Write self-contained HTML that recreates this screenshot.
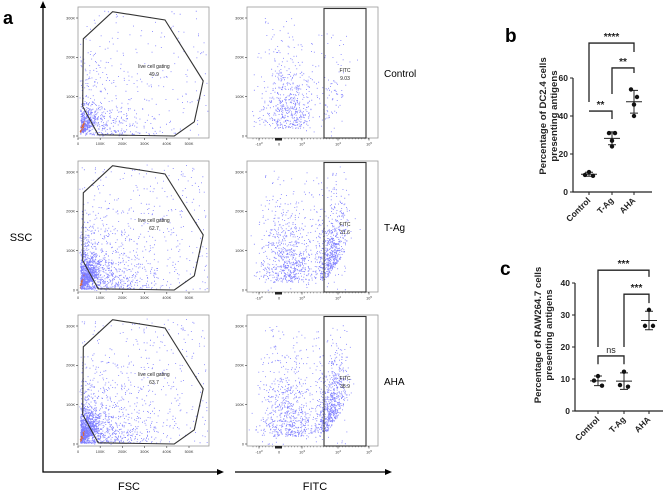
<!DOCTYPE html>
<html><head><meta charset="utf-8">
<style>
html,body{margin:0;padding:0;background:#fff;}
svg{display:block;font-family:"Liberation Sans",Arial,sans-serif;}
</style></head>
<body>
<svg id="fig" width="669" height="491" viewBox="0 0 669 491" xmlns="http://www.w3.org/2000/svg">
<g id="panelA"></g>
<g id="panelB"></g>
<g id="panelC"></g>
</svg>
<script>
// ---------- panel b data ----------
const bCategories = ["Control", "T-Ag", "AHA"];
const bPoints = [[10.5, 9, 8.5], [31, 31, 27, 24], [54, 50, 46, 40]];
const bTicks = [0, 20, 40, 60];
// ---------- panel c data ----------
const cCategories = ["Control", "T-Ag", "AHA"];
const cPoints = [[10.9, 9.5, 7.9], [12.3, 8.1, 7.6], [31.6, 26.6, 26.6]];
const cTicks = [0, 10, 20, 30, 40];
// ---------- panel a labels ----------
const aRows = ["Control", "T-Ag", "AHA"];
const aLiveGate = ["49.9", "62.7", "63.7"];
const aFitcGate = ["9.03", "31.6", "38.9"];
const fscTicks = ["0", "100K", "200K", "300K", "400K", "500K"];
const sscTicks = ["0", "100K", "200K", "300K"];

const NS = "http://www.w3.org/2000/svg";
function mk(parent, tag, attrs, text) {
  const e = document.createElementNS(NS, tag);
  for (const k in attrs) e.setAttribute(k, attrs[k]);
  if (text !== undefined) e.textContent = text;
  parent.appendChild(e);
  return e;
}
const A = document.getElementById("panelA");
const B = document.getElementById("panelB");
const C = document.getElementById("panelC");

// ---- Panel A axes ----
let t = mk(A, "text", {x: 3, y: 24, "font-size": 18, "font-weight": "bold"}, "a");


let ln = mk(A, "path", {d: "M43,5 L43,472 L220,472", fill: "none", stroke: "#000", "stroke-width": 1.3});


mk(A, "path", {d: "M40,8 L43,1 L46,8 Z M217,469 L224,472 L217,475 Z", fill: "#000"});
ln = mk(A, "path", {d: "M235,472 L388,472", fill: "none", stroke: "#000", "stroke-width": 1.3});


mk(A, "path", {d: "M385,469 L392,472 L385,475 Z", fill: "#000"});
t = mk(A, "text", {x: 129, y: 490, "font-size": 11, "text-anchor": "middle"}, "FSC");


t = mk(A, "text", {x: 315, y: 490, "font-size": 11, "text-anchor": "middle"}, "FITC");


t = mk(A, "text", {x: 21, y: 241, "font-size": 11, "text-anchor": "middle"}, "SSC");



// deterministic texture generator for flow dots (visual texture only)
let seed = 12345;
function rnd() { seed = (seed * 1103515245 + 12345) % 2147483648; return seed / 2147483648; }
function gauss() { let u = rnd() + 1e-9, v = rnd(); return Math.sqrt(-2 * Math.log(u)) * Math.cos(2 * Math.PI * v); }

const rowTops = [7, 161, 315];
const PH = 131, PW = 131;
const Lx = 78, Rx = 247;
const gatePts = [[24,247],[156,316],[392,295],[564,140],[524,36],[434,0],[91,3],[21,75]];
const densities = [0.6, 1.25, 1.25];

aRows.forEach((name, r) => {
  const top = rowTops[r], bot = top + PH;
  const gx = v => Lx + v / 100 * 22.2;
  const gy = v => bot - 2 - v / 300 * 118;
  const gl = mk(A, "g", {});
  
  
  mk(gl, "rect", {x: Lx, y: top, width: PW, height: PH, fill: "#fff", stroke: "#999", "stroke-width": 0.8});
  let dots = "";
  const n = Math.round(1500 * densities[r]);
  for (let i = 0; i < n; i++) {
    let x, y;
    const m = rnd();
    if (m < 0.35) { x = Math.abs(gauss()) * 40 + 12; y = Math.abs(gauss()) * 30 + 3 + x * 0.35; }
    else if (m < 0.82) { x = rnd() * rnd() * 420 + 10; y = rnd() * rnd() * 230 + 3; }
    else { x = rnd() * 580 + 5; y = rnd() * 320; }
    const px = gx(x), py = gy(y);
    if (px < Lx + 1 || px > Lx + PW - 1 || py < top + 1 || py > bot - 1) continue;
    dots += "M" + px.toFixed(1) + "," + py.toFixed(1) + "h0.9v0.9h-0.9z";
  }
  mk(gl, "path", {d: dots, fill: "#4646ff", opacity: 0.7});
  let hot = "";
  for (let i = 0; i < 22; i++) { const x = 8 + rnd() * 18, y = x * 1.1 + gauss() * 4 + 3; hot += "M" + gx(x).toFixed(1) + "," + gy(y).toFixed(1) + "h1v1h-1z"; }
  mk(gl, "path", {d: hot, fill: "#e0642a"});
  const poly = mk(gl, "polygon", {points: gatePts.map(p => gx(p[0]).toFixed(1) + "," + gy(p[1]).toFixed(1)).join(" "), fill: "none", stroke: "#333", "stroke-width": 1.1});
  
  
  mk(gl, "text", {x: Lx + 76, y: top + 61, "font-size": 5, "text-anchor": "middle", fill: "#222"}, "live cell gating");
  mk(gl, "text", {x: Lx + 76, y: top + 69, "font-size": 5, "text-anchor": "middle", fill: "#222"}, aLiveGate[r]);
  fscTicks.forEach((s, k) => {
    const x = gx(k * 100);
    mk(gl, "line", {x1: x, y1: bot, x2: x, y2: bot + 2, stroke: "#333", "stroke-width": 0.6});
    mk(gl, "text", {x: x, y: bot + 7, "font-size": 3.8, "text-anchor": "middle", fill: "#333"}, s);
  });
  sscTicks.forEach((s, k) => {
    const y = gy(k * 100);
    mk(gl, "line", {x1: Lx - 2, y1: y, x2: Lx, y2: y, stroke: "#333", "stroke-width": 0.6});
    mk(gl, "text", {x: Lx - 3, y: y + 1.3, "font-size": 3.8, "text-anchor": "end", fill: "#333"}, s);
  });
  // right plot (FITC)
  const gr = mk(A, "g", {});
  
  
  mk(gr, "rect", {x: Rx, y: top, width: PW, height: PH, fill: "#fff", stroke: "#999", "stroke-width": 0.8});
  let fd = "";
  const nf = Math.round(1100 * densities[r]);
  const posFrac = [0.1, 0.4, 0.45][r];
  for (let i = 0; i < nf; i++) {
    let fx, fy;
    const m = rnd();
    if (m < posFrac) { fx = 84 + gauss() * 8; fy = Math.abs(gauss()) * 30 + 10 + Math.max(0, fx - 78) * 1.4; }
    else if (m < 0.88) { fx = 40 + gauss() * 13; fy = Math.abs(gauss()) * 35 + 8; }
    else { fx = 15 + rnd() * 85; fy = rnd() * 118; }
    const px = Rx + fx, py = bot - 2 - fy;
    if (px < Rx + 1 || px > Rx + PW - 1 || py < top + 1 || py > bot - 1) continue;
    fd += "M" + px.toFixed(1) + "," + py.toFixed(1) + "h0.9v0.9h-0.9z";
  }
  mk(gr, "path", {d: fd, fill: "#4646ff", opacity: 0.7});
  const gate = mk(gr, "rect", {x: Rx + 77, y: top + 1.5, width: 42, height: PH - 1.5, fill: "none", stroke: "#333", "stroke-width": 1.1});
  
  
  mk(gr, "text", {x: Rx + 98, y: top + 65, "font-size": 5, "text-anchor": "middle", fill: "#222"}, "FITC");
  mk(gr, "text", {x: Rx + 98, y: top + 73, "font-size": 5, "text-anchor": "middle", fill: "#222"}, aFitcGate[r]);
  const fx = [[12, "-10", "3"], [32, "0", ""], [55, "10", "3"], [91, "10", "4"], [122, "10", "5"]];
  fx.forEach(([o, s, e]) => {
    mk(gr, "line", {x1: Rx + o, y1: bot, x2: Rx + o, y2: bot + 2.5, stroke: "#333", "stroke-width": 0.6});
    const tt = mk(gr, "text", {x: Rx + o, y: bot + 7.5, "font-size": 3.8, "text-anchor": "middle", fill: "#333"}, s);
    if (e) mk(tt, "tspan", {dy: -1.5, "font-size": 2.8}, e);
  });
  for (let o = 6; o < 124; o += 3.2) mk(gr, "line", {x1: Rx + o, y1: bot, x2: Rx + o, y2: bot + 1.3, stroke: "#333", "stroke-width": 0.4});
  mk(gr, "rect", {x: Rx + 28, y: bot, width: 7, height: 2.5, fill: "#222"});
  sscTicks.forEach((s, k) => {
    const y = bot - 2 - k * 100 / 300 * 118;
    mk(gr, "line", {x1: Rx - 2, y1: y, x2: Rx, y2: y, stroke: "#333", "stroke-width": 0.6});
    mk(gr, "text", {x: Rx - 3, y: y + 1.3, "font-size": 3.8, "text-anchor": "end", fill: "#333"}, s);
  });
  t = mk(A, "text", {x: 384, y: top + 70, "font-size": 10}, name);
  
  
});

// ---- Dot plot helper ----
function mean(a) { return a.reduce((s, v) => s + v, 0) / a.length; }
function sd(a) { const m = mean(a); return Math.sqrt(a.reduce((s, v) => s + (v - m) * (v - m), 0) / (a.length - 1)); }

function dotPlot(G, cfg, cats, pts, ticks) {
  const y = v => cfg.y0 - v * cfg.k;
  const xs = cfg.xs;
  const ax = mk(G, "path", {d: `M${cfg.ax},${y(ticks[ticks.length - 1])} L${cfg.ax},${cfg.y0} L${cfg.xEnd},${cfg.y0}`, fill: "none", stroke: "#222", "stroke-width": 1.2});
  
  
  ticks.forEach(v => {
    mk(G, "line", {x1: cfg.ax - 3, y1: y(v), x2: cfg.ax, y2: y(v), stroke: "#222", "stroke-width": 1});
    const tl = mk(G, "text", {x: cfg.ax - 5, y: y(v) + 3, "font-size": 8.5, "font-weight": "bold", "text-anchor": "end", fill: "#222"}, v);
    
    
  });
  cats.forEach((c, i) => {
    mk(G, "line", {x1: xs[i], y1: cfg.y0, x2: xs[i], y2: cfg.y0 + 3, stroke: "#222", "stroke-width": 1});
    const tl = mk(G, "text", {x: xs[i] + 2, y: cfg.y0 + 9, "font-size": 8.5, "font-weight": "bold", "text-anchor": "end", fill: "#222", transform: `rotate(-45 ${xs[i] + 2} ${cfg.y0 + 9})`}, c);
    
    
    const m = mean(pts[i]), s = sd(pts[i]);
    const g = mk(G, "g", {});
    
    
    mk(g, "path", {d: `M${xs[i] - 8},${y(m)} H${xs[i] + 8} M${xs[i]},${y(m - s)} V${y(m + s)} M${xs[i] - 4},${y(m - s)} H${xs[i] + 4} M${xs[i] - 4},${y(m + s)} H${xs[i] + 4}`, stroke: "#222", "stroke-width": 1, fill: "none"});
    pts[i].forEach((v, j) => {
      const off = pts[i].length === 4 ? [-3, 3, 0, 0][j] : [0, -4, 4][j];
      const d = mk(g, "circle", {cx: xs[i] + off, cy: y(v), r: 2.2, fill: "#111"});
      
      
    });
  });
  cfg.brackets.forEach(b => {
    const p = mk(G, "path", {d: `M${xs[b.a]},${y(b.la)} V${y(b.top)} H${xs[b.b]} V${y(b.lb)}`, fill: "none", stroke: "#222", "stroke-width": 1.3});
    
    
    const s = mk(G, "text", {x: (xs[b.a] + xs[b.b]) / 2, y: y(b.top) - 3, "font-size": b.lab === "ns" ? 9 : 10, "font-weight": b.lab === "ns" ? "normal" : "bold", "text-anchor": "middle", fill: "#222"}, b.lab);
    
    
  });
  const yl = mk(G, "text", {transform: `translate(${cfg.lx},${cfg.ly}) rotate(-90)`, "font-size": 9.6, "font-weight": "bold", "text-anchor": "middle", fill: "#222"});
  
  
  mk(yl, "tspan", {x: 0, dy: 0}, cfg.title[0]);
  mk(yl, "tspan", {x: 0, dy: 11}, cfg.title[1]);
}

t = mk(B, "text", {x: 505, y: 42, "font-size": 19, "font-weight": "bold"}, "b");


dotPlot(B, {y0: 192, k: 1.9, ax: 573, xEnd: 652, xs: [589, 612, 634], lx: 546, ly: 116,
  title: ["Percentage of DC2.4 cells", "presenting antigens"],
  brackets: [{a: 0, b: 2, top: 78.4, la: 47.4, lb: 73.7, lab: "****"},
             {a: 1, b: 2, top: 65.3, la: 51.6, lb: 62.6, lab: "**"},
             {a: 0, b: 1, top: 42.6, la: 42.6, lb: 38.4, lab: "**"}]},
  bCategories, bPoints, bTicks);

t = mk(C, "text", {x: 500, y: 275, "font-size": 19, "font-weight": "bold"}, "c");


dotPlot(C, {y0: 411, k: 3.2, ax: 575, xEnd: 663, xs: [598, 624, 649], lx: 541, ly: 335,
  title: ["Percentage of RAW264.7 cells", "presenting antigens"],
  brackets: [{a: 0, b: 2, top: 44, la: 20, lb: 41.9, lab: "***"},
             {a: 1, b: 2, top: 36.5, la: 20, lb: 33.7, lab: "***"},
             {a: 0, b: 1, top: 17.2, la: 14.6, lb: 14.6, lab: "ns"}]},
  cCategories, cPoints, cTicks);
</script>
</body></html>
